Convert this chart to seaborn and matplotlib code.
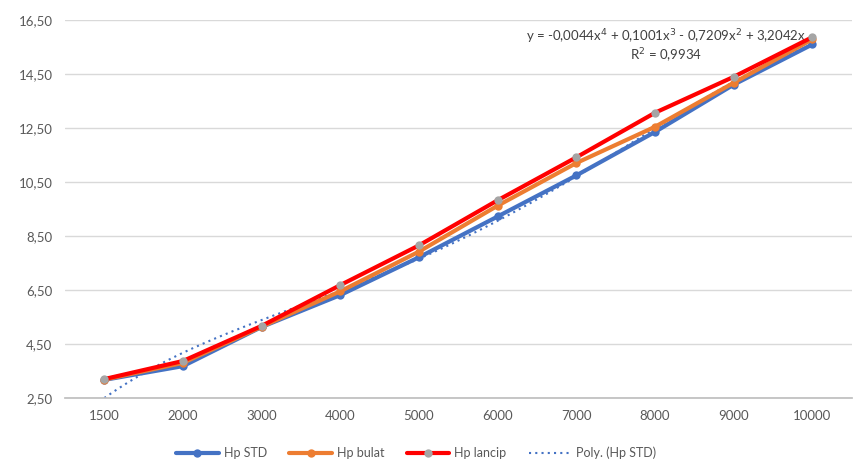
import numpy as np
import pandas as pd
import matplotlib
matplotlib.use('Agg')
import matplotlib.pyplot as plt
import seaborn as sns

# data
rpm = ['1500', '2000', '3000', '4000', '5000', '6000', '7000', '8000', '9000', '10000']
hp_std = [3.17, 3.68, 5.13, 6.31, 7.71, 9.22, 10.74, 12.35, 14.10, 15.59]
hp_bulat = [3.18, 3.80, 5.14, 6.45, 7.92, 9.62, 11.20, 12.54, 14.17, 15.78]
hp_lancip = [3.20, 3.87, 5.17, 6.68, 8.15, 9.82, 11.41, 13.06, 14.39, 15.86]
# polynomial trendline of Hp STD (x = 1..10), highest power first
trend_coef = [-0.00444, 0.1001, -0.7209, 3.2042, -0.08]

sns.set_theme(style='white')
plt.rcParams['font.family'] = ['Lato', 'DejaVu Sans']

pos = np.arange(len(rpm))
df = pd.DataFrame({'pos': pos, 'Hp STD': hp_std, 'Hp bulat': hp_bulat, 'Hp lancip': hp_lancip})

fig = plt.figure(figsize=(8.62, 4.73), dpi=100)
ax = fig.add_axes([0.0754, 0.1586, 0.9126, 0.7994])

blue, orange, red, grey = '#4472C4', '#ED7D31', '#FF0000', '#A5A5A5'

sns.lineplot(data=df, x='pos', y='Hp STD', ax=ax, color=blue, lw=3, marker='o',
             markersize=6, markeredgewidth=0, label='Hp STD', zorder=3)
sns.lineplot(data=df, x='pos', y='Hp bulat', ax=ax, color=orange, lw=3, marker='o',
             markersize=6, markeredgewidth=0, label='Hp bulat', zorder=4)
sns.lineplot(data=df, x='pos', y='Hp lancip', ax=ax, color=red, lw=3, marker='o',
             markersize=6, markerfacecolor=grey, markeredgewidth=0, label='Hp lancip', zorder=5)

xt = np.linspace(1, len(rpm), 200)
trend = pd.DataFrame({'pos': xt - 1, 'y': np.polyval(trend_coef, xt)})
sns.lineplot(data=trend, x='pos', y='y', ax=ax, color=blue, lw=1.5, ls=(0, (1, 2)),
             label='Poly. (Hp STD)', zorder=2.5)

ax.set_xlim(-0.5, len(rpm) - 0.5)
ax.set_ylim(2.5, 16.5)
ax.set_yticks(np.arange(2.5, 16.6, 2))
ax.set_yticklabels([f'{v:.2f}'.replace('.', ',') for v in np.arange(2.5, 16.6, 2)])
ax.set_xticks(pos)
ax.set_xticklabels(rpm)
ax.set_xlabel('')
ax.set_ylabel('')
ax.tick_params(axis='both', labelsize=9.5, colors='#595959', length=0, pad=9)
ax.grid(axis='y', color='#D9D9D9', lw=1)
for s in ['top', 'right', 'left']:
    ax.spines[s].set_visible(False)
ax.spines['bottom'].set_color('#BFBFBF')
ax.set_axisbelow(True)

ax.text(0.764, 0.955, 'y = -0,0044x$^4$ + 0,1001x$^3$ - 0,7209x$^2$ + 3,2042x',
        transform=ax.transAxes, ha='center', va='center', fontsize=9.5, color='#404040')
ax.text(0.764, 0.905, 'R$^2$ = 0,9934', transform=ax.transAxes, ha='center', va='center',
        fontsize=9.5, color='#404040')

ax.legend(loc='center', bbox_to_anchor=(0.483, 0.042), bbox_transform=fig.transFigure,
          ncol=4, frameon=False, fontsize=9, handlelength=3.4, handletextpad=0.4,
          columnspacing=1.8, labelcolor='#595959')

fig.savefig('out.png', dpi=100)
